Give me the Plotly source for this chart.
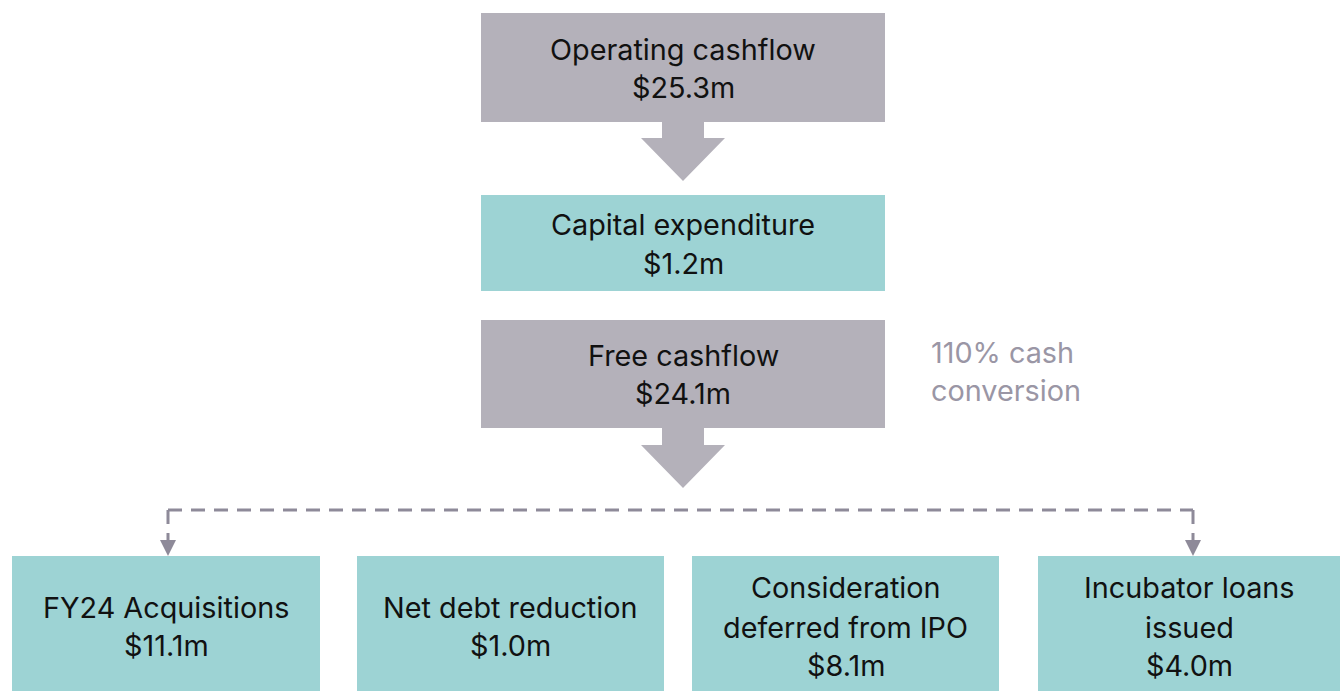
import plotly.graph_objects as go

# ---- data ----
top_labels = ["Operating cashflow", "Capital expenditure", "Free cashflow"]
top_values = [25.3, 1.2, 24.1]
bottom_labels = [["FY24 Acquisitions"], ["Net debt reduction"],
                 ["Consideration", "deferred from IPO"], ["Incubator loans", "issued"]]
bottom_values = [11.1, 1.0, 8.1, 4.0]
note_lines = ["110% cash", "conversion"]

# ---- styles / layout ----
GREY = "#B4B1BA"
TEAL = "#9DD3D4"
LINE = "#8E8A99"
NOTE = "#9A96A5"
FONT = "Inter"
FS = 28.8
W, H = 1340, 691

top_boxes = [(481, 885, 13, 122, GREY), (481, 885, 195, 291, TEAL), (481, 885, 320, 428, GREY)]
top_text_y = [(49, 87), (224, 263), (355, 393)]
bottom_boxes = [(12, 320), (357, 664), (692, 999), (1038, 1345)]
bottom_y = (556, 700)
bottom_text_y = [(607, 645), (607, 645), (587, 627, 665), (587, 627, 665)]

fig = go.Figure()
shapes = []
annotations = []

def fmt(v):
    return f"${v:.1f}m"

for (x0, x1, y0, y1, c), lab, val, ty in zip(top_boxes, top_labels, top_values, top_text_y):
    shapes.append(dict(type="rect", x0=x0, x1=x1, y0=y0, y1=y1, fillcolor=c, line=dict(width=0), layer="below"))
    cx = (x0 + x1) / 2
    for line, y in zip([lab, fmt(val)], ty):
        annotations.append(dict(x=cx, y=y, text=line, showarrow=False, xanchor="center", yanchor="middle",
                                font=dict(family=FONT, size=FS, color="#111111")))

# block arrows
def block_arrow(cx, ytop, yneck, ytip):
    sw, hw = 21, 42
    path = (f"M {cx-sw} {ytop} L {cx+sw} {ytop} L {cx+sw} {yneck} L {cx+hw} {yneck} "
            f"L {cx} {ytip} L {cx-hw} {yneck} L {cx-sw} {yneck} Z")
    shapes.append(dict(type="path", path=path, fillcolor=GREY, line=dict(width=0)))

block_arrow(683, 122, 138, 181)
block_arrow(683, 428, 445, 488)

# note
for line, y in zip(note_lines, (352, 390)):
    annotations.append(dict(x=929, y=y, text=line, showarrow=False, xanchor="left", yanchor="middle",
                            font=dict(family=FONT, size=FS, color=NOTE)))

# dashed connector
DASH = "14px,9px"
shapes.append(dict(type="line", x0=168, x1=1193, y0=510, y1=510, line=dict(color=LINE, width=3, dash=DASH)))
for x in (168, 1193):
    shapes.append(dict(type="line", x0=x, x1=x, y0=510, y1=541, line=dict(color=LINE, width=3, dash=DASH)))
    shapes.append(dict(type="path", path=f"M {x-8} {540} L {x+8} {540} L {x} {556} Z",
                       fillcolor=LINE, line=dict(width=0)))

# bottom boxes
for (x0, x1), lab, val, ty in zip(bottom_boxes, bottom_labels, bottom_values, bottom_text_y):
    shapes.append(dict(type="rect", x0=x0, x1=x1, y0=bottom_y[0], y1=bottom_y[1], fillcolor=TEAL,
                       line=dict(width=0), layer="below"))
    cx = (x0 + min(x1, 1340)) / 2
    for line, y in zip(lab + [fmt(val)], ty):
        annotations.append(dict(x=cx, y=y, text=line, showarrow=False, xanchor="center", yanchor="middle",
                                font=dict(family=FONT, size=FS, color="#111111")))

fig.update_layout(
    width=W, height=H, margin=dict(l=0, r=0, t=0, b=0),
    paper_bgcolor="white", plot_bgcolor="white",
    xaxis=dict(range=[0, W], visible=False, fixedrange=True),
    yaxis=dict(range=[H, 0], visible=False, fixedrange=True),
    shapes=shapes, annotations=annotations, showlegend=False,
)
fig.write_html("out.html", config={"displayModeBar": False},
               post_script="document.body.style.margin='0';document.body.style.overflow='hidden';")
